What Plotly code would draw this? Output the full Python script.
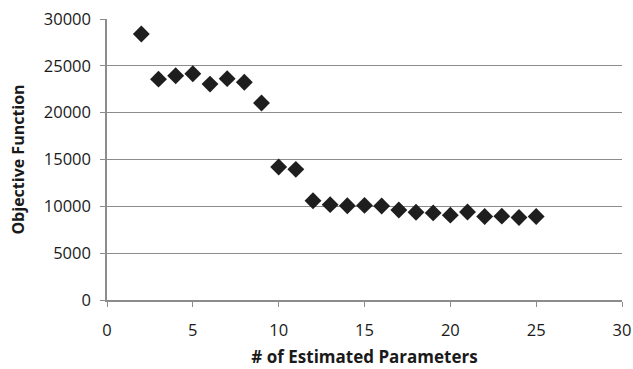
import plotly.graph_objects as go

params = [2, 3, 4, 5, 6, 7, 8, 9, 10, 11, 12, 13, 14, 15, 16, 17, 18, 19, 20, 21, 22, 23, 24, 25]
objective = [28400, 23580, 23940, 24150, 23050, 23630, 23240, 21030, 14200, 13950,
             10600, 10180, 10070, 10100, 10030, 9610, 9370, 9300, 9060, 9400,
             8920, 8950, 8810, 8920]
x_ticks = [0, 5, 10, 15, 20, 25, 30]
y_ticks = [0, 5000, 10000, 15000, 20000, 25000, 30000]

fig = go.Figure()
fig.add_trace(go.Scatter(
    x=params, y=objective, mode="markers",
    marker=dict(symbol="diamond", size=13, color="#1e1e1e", line=dict(width=0)),
    showlegend=False, cliponaxis=False,
))

font = "Open Sans, Liberation Sans, sans-serif"
fig.update_layout(
    width=633, height=369,
    margin=dict(l=107, r=11, t=19, b=69),
    paper_bgcolor="white", plot_bgcolor="white",
    font=dict(family=font, size=16, color="#1a1a1a"),
)
fig.update_xaxes(
    range=[0, 30], tickvals=x_ticks, ticktext=[str(v) for v in x_ticks],
    showgrid=False, zeroline=False, automargin=False,
    showline=True, linecolor="#8c8c8c", linewidth=1.5,
    ticks="outside", ticklen=5, tickcolor="#8c8c8c",
    tickfont=dict(size=16.5), ticklabelstandoff=9, ticklabeloverflow="allow",
    title=dict(text="<b># of Estimated Parameters</b>", font=dict(size=17), standoff=12),
)
fig.update_yaxes(
    range=[0, 30000], tickvals=y_ticks, ticktext=[str(v) for v in y_ticks],
    showgrid=True, gridcolor="#8c8c8c", gridwidth=1.2, zeroline=False, automargin=False,
    showline=True, linecolor="#8c8c8c", linewidth=1.5,
    ticks="outside", ticklen=5, tickcolor="#8c8c8c",
    tickfont=dict(size=16.5), ticklabelstandoff=6, ticklabeloverflow="allow",
    title=dict(text="<b>Objective Function</b>", font=dict(size=16), standoff=15),
)
fig.write_html(
    "out.html",
    config={"displayModeBar": False},
    post_script="document.body.style.margin='0';document.body.style.overflow='hidden';",
)
